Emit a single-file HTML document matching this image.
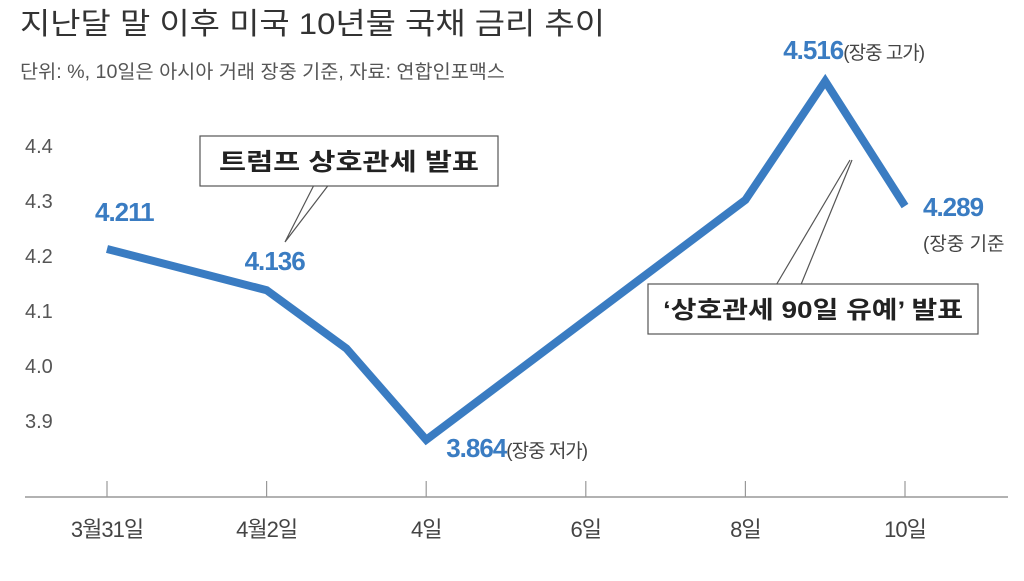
<!DOCTYPE html>
<html><head><meta charset="utf-8"><style>
body{margin:0;background:#fff;width:1024px;height:576px;overflow:hidden}
svg text{font-family:"Liberation Sans","Noto Sans CJK KR",sans-serif}
</style></head><body>
<svg id="c" width="1024" height="576" xmlns="http://www.w3.org/2000/svg">
<text x="20" y="34" font-size="30" fill="#333" textLength="585" lengthAdjust="spacingAndGlyphs">지난달 말 이후 미국 10년물 국채 금리 추이</text>
<text x="20" y="78" font-size="19" fill="#555" textLength="485" lengthAdjust="spacingAndGlyphs">단위: %, 10일은 아시아 거래 장중 기준, 자료: 연합인포맥스</text>
<g id="yaxis"></g><g id="xaxis"></g><g id="series"></g><g id="labels"></g>
<g>
<polyline points="330,183 285,242 315,183" fill="#fff" stroke="#555" stroke-width="1.2"/>
<rect x="200" y="136" width="298" height="50" fill="#fff" stroke="#555" stroke-width="1.2"/>
<text x="349" y="170" font-size="24" font-weight="bold" fill="#222" text-anchor="middle" textLength="260" lengthAdjust="spacingAndGlyphs">트럼프 상호관세 발표</text>
</g>
<g>
<line x1="775" y1="287" x2="850" y2="160" stroke="#555" stroke-width="1.2"/>
<line x1="800" y1="287" x2="852" y2="160" stroke="#555" stroke-width="1.2"/>
<rect x="648" y="284" width="330" height="50" fill="#fff" stroke="#555" stroke-width="1.2"/>
<text x="813" y="318" font-size="24" font-weight="bold" fill="#222" text-anchor="middle" textLength="300" lengthAdjust="spacingAndGlyphs">‘상호관세 90일 유예’ 발표</text>
</g>
</svg>
<script>
const dayIdx=[0,2,3,4,8,9,10];
const values=[4.211,4.136,4.03,3.864,4.30,4.516,4.289];
const yTicks=[3.9,4.0,4.1,4.2,4.3,4.4];
const xTickDays=[0,2,4,6,8,10];
const xTickLabels=["3월31일","4월2일","4일","6일","8일","10일"];
const ptLabels=[["4.211",""],["4.136",""],null,["3.864","(장중 저가)"],null,["4.516","(장중 고가)"],["4.289",""]];
const NS="http://www.w3.org/2000/svg";
const X=d=>107+d*79.8;
const Y=v=>420-(v-3.9)*550;
function mk(t,a,p,txt){const e=document.createElementNS(NS,t);for(const k in a)e.setAttribute(k,a[k]);if(txt!==undefined)e.textContent=txt;p.appendChild(e);return e;}
const ya=document.getElementById('yaxis');
yTicks.forEach(v=>{const e=mk('text',{x:25,y:Y(v)+8,'font-size':20,fill:'#555'},ya,v.toFixed(1));

});
const xa=document.getElementById('xaxis');
const ax=mk('line',{x1:25,y1:497,x2:1008,y2:497,stroke:'#999','stroke-width':1.5},xa);


xTickDays.forEach((d,i)=>{const t=mk('line',{x1:X(d),y1:481,x2:X(d),y2:497,stroke:'#999','stroke-width':1.2},xa);


const l=mk('text',{x:X(d),y:537,'font-size':22,fill:'#444','text-anchor':'middle','letter-spacing':'-1'},xa,xTickLabels[i]);

});
const s=document.getElementById('series');
const pl=mk('polyline',{points:dayIdx.map((d,i)=>X(d)+','+Y(values[i])).join(' '),fill:'none',stroke:'#3a7cc2','stroke-width':8,'stroke-linejoin':'miter','stroke-miterlimit':10},s);


const lb=document.getElementById('labels');
const off=[[-12,-28,'start'],[-22,-20,'start'],null,[20,17,'start'],null,[-42,-22,'start'],[18,10,'start']];
ptLabels.forEach((p,i)=>{if(!p)return;const o=off[i];
const t=mk('text',{x:X(dayIdx[i])+o[0],y:Y(values[i])+o[1],'font-size':26,'font-weight':'bold',fill:'#3a7cc2','letter-spacing':'-1'},lb);


mk('tspan',{},t,p[0]);
if(p[1])mk('tspan',{'font-size':19,'font-weight':'normal',fill:'#444'},t,p[1]);});
const b=mk('text',{x:X(10)+18,y:Y(values[6])+44,'font-size':19,fill:'#444'},lb,'(장중 기준');


</script>
</body></html>
